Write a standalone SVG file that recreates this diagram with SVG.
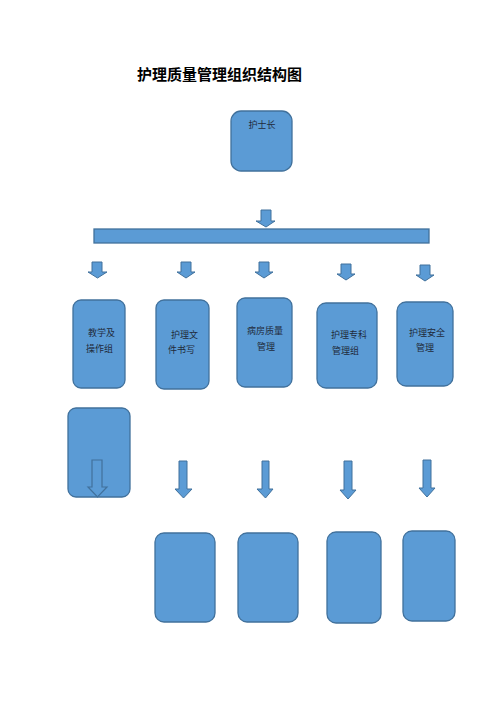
<svg xmlns="http://www.w3.org/2000/svg" width="500" height="707" viewBox="0 0 500 707">
<style>
.box{fill:#5B9BD5;stroke:#41719C;stroke-width:1.3}
.arr{fill:#5B9BD5;stroke:#41719C;stroke-width:1}
.hollow{fill:none;stroke:#41719C;stroke-width:1.2}
.t{font-family:"Noto Sans CJK SC","Noto Sans",sans-serif;font-size:9px;fill:#1F2A3A}
.title{font-family:"Noto Sans CJK SC","Noto Sans",sans-serif;font-size:15px;font-weight:bold;fill:#000}
</style>
<rect width="500" height="707" fill="#fff"/>
<text class="title" x="137" y="80">护理质量管理组织结构图</text>

<g id="head">
<rect class="box" x="231" y="111" width="61" height="60" rx="10"/>
<text class="t" x="262" y="128" text-anchor="middle">护士长</text>
</g>

<g id="bar">
<rect class="box" x="94" y="229" width="335" height="14"/>
</g>

<g id="n1">
<rect class="box" x="73" y="300" width="52" height="88" rx="8"/>
<text class="t" x="88" y="336">教学及</text>
<text class="t" x="86" y="352">操作组</text>
</g>
<g id="n2">
<rect class="box" x="156" y="300" width="53" height="89" rx="8"/>
<text class="t" x="171" y="338">护理文</text>
<text class="t" x="168" y="353">件书写</text>
</g>
<g id="n3">
<rect class="box" x="237" y="298" width="55" height="89" rx="8"/>
<text class="t" x="247" y="334">病房质量</text>
<text class="t" x="257" y="350">管理</text>
</g>
<g id="n4">
<rect class="box" x="317" y="303" width="60" height="85" rx="9"/>
<text class="t" x="331" y="338">护理专科</text>
<text class="t" x="332" y="354">管理组</text>
</g>
<g id="n5">
<rect class="box" x="397" y="302" width="56" height="84" rx="9"/>
<text class="t" x="409" y="336">护理安全</text>
<text class="t" x="416" y="351">管理</text>
</g>

<g id="n1b">
<rect class="box" x="68" y="408" width="62" height="89" rx="8"/>
</g>
<g id="b2"><rect class="box" x="155" y="533" width="60" height="89" rx="9"/></g>
<g id="b3"><rect class="box" x="238" y="533" width="60" height="89" rx="9"/></g>
<g id="b4"><rect class="box" x="327" y="532" width="54" height="91" rx="9"/></g>
<g id="b5"><rect class="box" x="403" y="531" width="52" height="90" rx="9"/></g>

<g id="connectors">
<path class="arr" d="M261,210 H271 V221 H275 L266,227 L256,221 H261 Z"/>
<path class="arr" d="M92,262 H102 V272 H107 L97.5,278 L88,272 H92 Z"/>
<path class="arr" d="M181,262 H191 V272 H195 L186,278 L177,272 H181 Z"/>
<path class="arr" d="M259,262 H269 V272 H273 L264,278 L255,272 H259 Z"/>
<path class="arr" d="M341,264 H351 V274 H355 L346,280 L337,274 H341 Z"/>
<path class="arr" d="M420,265 H430 V275 H434 L425,281 L416,275 H420 Z"/>
<path class="hollow" d="M92,460 H102 V487 H107 L97.5,497 L88,487 H92 Z"/>
<path class="arr" d="M179,461 H187 V489 H192 L183.5,498 L175,489 H179 Z"/>
<path class="arr" d="M262,461 H269 V489 H273 L265.5,498 L257,489 H262 Z"/>
<path class="arr" d="M344,461 H352 V490 H356 L348,499 L340,490 H344 Z"/>
<path class="arr" d="M423,460 H431 V488 H435 L427,497 L419,488 H423 Z"/>
</g>
</svg>
